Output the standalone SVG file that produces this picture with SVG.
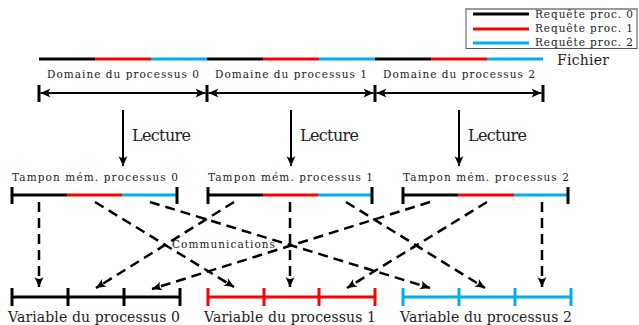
<svg xmlns="http://www.w3.org/2000/svg" width="639" height="325" viewBox="0 0 639 325">
<style>
text{font-family:'DejaVu Serif','Liberation Serif',serif;fill:#222}
.s{font-size:10.5px}
.m{font-size:14px}
.l{font-size:16px}
.k{stroke:#000}
.r{stroke:#f00}
.b{stroke:#00aeef}
.seg{stroke-width:3;fill:none}
.tick{stroke-width:3;fill:none}
.arr{stroke:#000;stroke-width:2;fill:none}
.dash{stroke:#000;stroke-width:2.5;fill:none;stroke-dasharray:10 6}
</style>
<defs>
<marker id="ah" markerUnits="userSpaceOnUse" markerWidth="14" markerHeight="12" viewBox="-11 -6 12 12" refX="0" refY="0" orient="auto-start-reverse">
<path d="M0,0 L-10,-4.5 Q-6,0 -10,4.5 Z" fill="#000"/>
</marker>
</defs>
<rect width="639" height="325" fill="#fff"/>

<g id="legend">
<rect x="466" y="8.5" width="171" height="40" fill="#fff" stroke="#555" stroke-width="1"/>
<line x1="466" y1="9" x2="637" y2="9" stroke="#999" stroke-width="2"/>
<line x1="473" y1="14" x2="529" y2="14" class="seg k"/>
<line x1="473" y1="29" x2="529" y2="29" class="seg r"/>
<line x1="473" y1="43" x2="529" y2="43" class="seg b"/>
<text x="535" y="17.5" class="s" textLength="98">Requête proc. 0</text>
<text x="535" y="31.5" class="s" textLength="98">Requête proc. 1</text>
<text x="535" y="45.5" class="s" textLength="98">Requête proc. 2</text>
</g>

<g id="fichier">
<line x1="39" y1="59" x2="95" y2="59" class="seg k"/>
<line x1="95" y1="59" x2="151" y2="59" class="seg r"/>
<line x1="151" y1="59" x2="207" y2="59" class="seg b"/>
<line x1="207" y1="59" x2="263" y2="59" class="seg k"/>
<line x1="263" y1="59" x2="319" y2="59" class="seg r"/>
<line x1="319" y1="59" x2="375" y2="59" class="seg b"/>
<line x1="375" y1="59" x2="431" y2="59" class="seg k"/>
<line x1="431" y1="59" x2="487" y2="59" class="seg r"/>
<line x1="487" y1="59" x2="543" y2="59" class="seg b"/>
<text x="557" y="65" class="m" textLength="52">Fichier</text>
</g>

<g id="domaines">
<text x="47" y="78" class="s" textLength="152">Domaine du processus 0</text>
<text x="215" y="78" class="s" textLength="152">Domaine du processus 1</text>
<text x="383" y="78" class="s" textLength="152">Domaine du processus 2</text>
<g class="tick k">
<line x1="39" y1="85" x2="39" y2="102"/>
<line x1="207" y1="85" x2="207" y2="102"/>
<line x1="375" y1="85" x2="375" y2="102"/>
<line x1="543" y1="85" x2="543" y2="102"/>
</g>
<line x1="40.5" y1="93" x2="205.5" y2="93" class="arr" marker-start="url(#ah)" marker-end="url(#ah)"/>
<line x1="208.5" y1="93" x2="373.5" y2="93" class="arr" marker-start="url(#ah)" marker-end="url(#ah)"/>
<line x1="376.5" y1="93" x2="541.5" y2="93" class="arr" marker-start="url(#ah)" marker-end="url(#ah)"/>
</g>

<g id="tampon0">
<text x="12" y="181" class="s" textLength="166">Tampon mém. processus 0</text>
<line x1="12" y1="195" x2="67" y2="195" class="seg k"/>
<line x1="67" y1="195" x2="122" y2="195" class="seg r"/>
<line x1="122" y1="195" x2="177" y2="195" class="seg b"/>
<line x1="12" y1="187" x2="12" y2="204" class="tick k"/>
<line x1="177" y1="187" x2="177" y2="204" class="tick k"/>
</g>
<g id="tampon1">
<text x="208" y="181" class="s" textLength="165">Tampon mém. processus 1</text>
<line x1="208" y1="195" x2="263" y2="195" class="seg k"/>
<line x1="263" y1="195" x2="318" y2="195" class="seg r"/>
<line x1="318" y1="195" x2="372" y2="195" class="seg b"/>
<line x1="208" y1="187" x2="208" y2="204" class="tick k"/>
<line x1="372" y1="187" x2="372" y2="204" class="tick k"/>
</g>
<g id="tampon2">
<text x="403" y="181" class="s" textLength="166">Tampon mém. processus 2</text>
<line x1="403" y1="195" x2="458" y2="195" class="seg k"/>
<line x1="458" y1="195" x2="514" y2="195" class="seg r"/>
<line x1="514" y1="195" x2="568" y2="195" class="seg b"/>
<line x1="403" y1="187" x2="403" y2="204" class="tick k"/>
<line x1="568" y1="187" x2="568" y2="204" class="tick k"/>
</g>

<g id="variable0">
<line x1="12" y1="297" x2="180" y2="297" class="seg k"/>
<g class="tick k">
<line x1="12" y1="288" x2="12" y2="306"/>
<line x1="68" y1="288" x2="68" y2="306"/>
<line x1="124" y1="288" x2="124" y2="306"/>
<line x1="180" y1="288" x2="180" y2="306"/>
</g>
<text x="8" y="322" class="m" textLength="172">Variable du processus 0</text>
</g>
<g id="variable1">
<line x1="208" y1="297" x2="375" y2="297" class="seg r"/>
<g class="tick r">
<line x1="208" y1="288" x2="208" y2="306"/>
<line x1="264" y1="288" x2="264" y2="306"/>
<line x1="319" y1="288" x2="319" y2="306"/>
<line x1="375" y1="288" x2="375" y2="306"/>
</g>
<text x="204" y="322" class="m" textLength="172">Variable du processus 1</text>
</g>
<g id="variable2">
<line x1="403" y1="297" x2="571" y2="297" class="seg b"/>
<g class="tick b">
<line x1="403" y1="288" x2="403" y2="306"/>
<line x1="459" y1="288" x2="459" y2="306"/>
<line x1="515" y1="288" x2="515" y2="306"/>
<line x1="571" y1="288" x2="571" y2="306"/>
</g>
<text x="400" y="322" class="m" textLength="172">Variable du processus 2</text>
</g>

<g id="connecteurs">
<line x1="123" y1="110" x2="123" y2="166" class="arr" marker-end="url(#ah)"/>
<line x1="291" y1="110" x2="291" y2="166" class="arr" marker-end="url(#ah)"/>
<line x1="459" y1="110" x2="459" y2="166" class="arr" marker-end="url(#ah)"/>
<text x="132" y="141" class="l" textLength="59">Lecture</text>
<text x="300" y="141" class="l" textLength="59">Lecture</text>
<text x="468" y="141" class="l" textLength="59">Lecture</text>

<line x1="39" y1="202" x2="39" y2="287" class="dash" marker-end="url(#ah)"/>
<line x1="95" y1="202" x2="234" y2="287" class="dash" marker-end="url(#ah)"/>
<line x1="150" y1="202" x2="430" y2="288" class="dash" marker-end="url(#ah)"/>
<line x1="234" y1="202" x2="96" y2="288" class="dash" marker-end="url(#ah)"/>
<line x1="290" y1="202" x2="290" y2="287" class="dash" marker-end="url(#ah)"/>
<line x1="346" y1="202" x2="485" y2="288" class="dash" marker-end="url(#ah)"/>
<line x1="430" y1="202" x2="152" y2="289" class="dash" marker-end="url(#ah)"/>
<line x1="487" y1="202" x2="347" y2="288" class="dash" marker-end="url(#ah)"/>
<line x1="542" y1="202" x2="542" y2="287" class="dash" marker-end="url(#ah)"/>
<text x="172" y="248" class="s" textLength="103">Communications</text>
</g>
</svg>
